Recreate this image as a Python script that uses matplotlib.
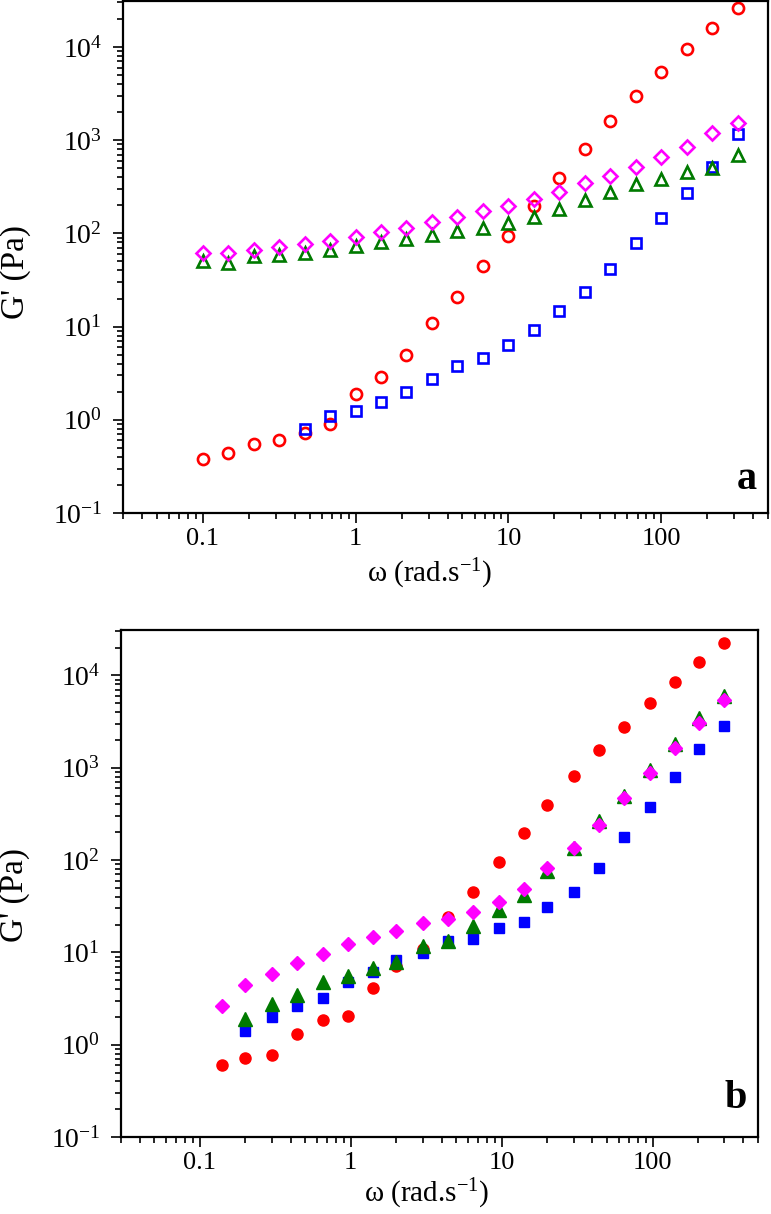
"""
Storage modulus G' vs angular frequency, two stacked log-log panels (a: open, b: filled).
"""

import matplotlib
matplotlib.use("Agg")
import matplotlib.pyplot as plt
from matplotlib.ticker import LogLocator, FuncFormatter, NullFormatter


# ─── Data ────────────────────────────────────────────────────────────────────

# panel a
w_a = [0.1, 0.147, 0.215, 0.316, 0.464, 0.681, 1, 1.47, 2.15, 3.16, 4.64,
       6.81, 10, 14.7, 21.5, 31.6, 46.4, 68.1, 100, 147, 215, 316]
red_a = [0.38, 0.44, 0.55, 0.60, 0.72, 0.90, 1.88, 2.91, 5.0, 10.8, 21,
         44.7, 93, 196, 395, 801, 1585, 2985, 5445, 9600, 16000, 26400]
blue_a = [0.80, 1.10, 1.25, 1.55, 2.01, 2.75, 3.79, 4.65, 6.3, 9.1, 14.8,
          23.7, 41.8, 78, 145, 268, 518, 1160]          # starts at w = 0.464
green_a = [50, 48, 57, 59, 61, 67, 73, 81, 88, 96, 106, 115, 130, 148, 182,
           228, 275, 335, 379, 458, 505, 690]
magenta_a = [61, 61, 66, 72, 76, 83, 92, 104, 114, 131, 150, 173, 198, 233,
             279, 343, 415, 518, 652, 849, 1178, 1510]

# panel b
w_b = [0.14, 0.2, 0.3, 0.44, 0.65, 0.96, 1.4, 2.0, 3.0, 4.4, 6.5, 9.6, 14,
       20, 30, 44, 65, 96, 140, 204, 300]
red_b = [0.60, 0.71, 0.78, 1.31, 1.85, 2.04, 4.09, 7.05, 11, 24, 45, 95, 197,
         391, 806, 1549, 2779, 4985, 8435, 13840, 22280]
blue_b = [1.41, 2.0, 2.62, 3.19, 4.74, 6.2, 8.34, 9.97, 13.4, 14.0, 18.4,
          21.4, 31.2, 45.4, 81.5, 177, 379, 797, 1596, 2834]  # starts at w = 0.2
green_b = [1.89, 2.75, 3.45, 4.74, 5.5, 6.84, 7.8, 11.6, 13.4, 19.4, 28.8,
           42, 76, 134, 262, 500, 953, 1815, 3456, 5960]      # starts at w = 0.2
magenta_b = [2.62, 4.38, 5.78, 7.63, 9.68, 12.4, 14.8, 17.2, 20.8, 22.9, 27.4,
             35.5, 48.7, 82.4, 135, 238, 467, 880, 1643, 3041, 5400]

X_LABEL = r"ω (rad.s$^{-1}$)"
Y_LABEL = "G' (Pa)"

RED, BLUE, GREEN, MAGENTA = "#ff0000", "#0000ff", "#007a00", "#ff00ff"


# ─── Style ───────────────────────────────────────────────────────────────────

plt.rcParams["font.family"] = ["Liberation Serif", "DejaVu Serif"]
plt.rcParams["mathtext.fontset"] = "custom"
plt.rcParams["mathtext.rm"] = "Liberation Serif"
plt.rcParams["mathtext.it"] = "Liberation Serif:italic"
plt.rcParams["mathtext.bf"] = "Liberation Serif:bold"
plt.rcParams["axes.linewidth"] = 1.6


def style_axes(ax, letter, xlabel_pos, ylabel_pos, letter_pos):
    ax.set_xscale("log")
    ax.set_yscale("log")
    ax.set_xlim(0.03, 500)
    ax.set_ylim(0.1, 3.1e4)

    ax.xaxis.set_major_locator(LogLocator(base=10, numticks=10))
    ax.xaxis.set_minor_locator(LogLocator(base=10, subs=range(2, 10), numticks=20))
    ax.xaxis.set_major_formatter(FuncFormatter(lambda v, _: f"{v:g}"))
    ax.xaxis.set_minor_formatter(NullFormatter())
    ax.yaxis.set_major_locator(LogLocator(base=10, numticks=10))
    ax.yaxis.set_minor_locator(LogLocator(base=10, subs=range(2, 10), numticks=20))
    ax.yaxis.set_minor_formatter(NullFormatter())

    ax.tick_params(which="both", direction="out", top=False, right=False,
                   width=1.2)
    ax.tick_params(which="major", length=7)
    ax.tick_params(which="minor", length=4)
    ax.tick_params(axis="x", which="major", labelsize=19, pad=4)
    ax.tick_params(axis="y", which="major", labelsize=20, pad=8)

    ax.set_xlabel(X_LABEL, fontsize=21)
    ax.set_ylabel(Y_LABEL, fontsize=24)
    ax.xaxis.set_label_coords(*xlabel_pos)
    ax.yaxis.set_label_coords(*ylabel_pos)

    ax.text(letter_pos[0], letter_pos[1], letter, transform=ax.transAxes,
            ha="right", va="bottom", fontsize=29, fontweight="bold")


# ─── Figure ──────────────────────────────────────────────────────────────────

fig = plt.figure(figsize=(7.71, 12.14), dpi=100)

# (a) open symbols
ax1 = fig.add_axes([0.1595, 0.5774, 0.8366, 0.4217])
open_kw = dict(linestyle="none", markerfacecolor="none", markeredgewidth=1.9)
ax1.plot(w_a, red_a, "o", color=RED, markersize=8, **open_kw)
ax1.plot(w_a[4:], blue_a, "s", color=BLUE, markersize=6.5, **open_kw)
ax1.plot(w_a, green_a, "^", color=GREEN, markersize=9, **open_kw)
ax1.plot(w_a, magenta_a, "D", color=MAGENTA, markersize=7.2, **open_kw)
style_axes(ax1, "a", (0.476, -0.085), (-0.143, 0.47), (0.983, 0.03))

# (b) filled symbols
ax2 = fig.add_axes([0.1569, 0.0634, 0.8262, 0.4176])
ax2.plot(w_b, red_b, "o", color=RED, markersize=8, linestyle="none")
ax2.plot(w_b[1:], blue_b, "s", color=BLUE, markersize=7.5, linestyle="none")
ax2.plot(w_b[1:], green_b, "^", color=GREEN, markersize=10, linestyle="none")
ax2.plot(w_b, magenta_b, "D", color=MAGENTA, markersize=7, linestyle="none")
style_axes(ax2, "b", (0.480, -0.078), (-0.143, 0.477), (0.983, 0.04))

fig.savefig("out.png", dpi=100)
